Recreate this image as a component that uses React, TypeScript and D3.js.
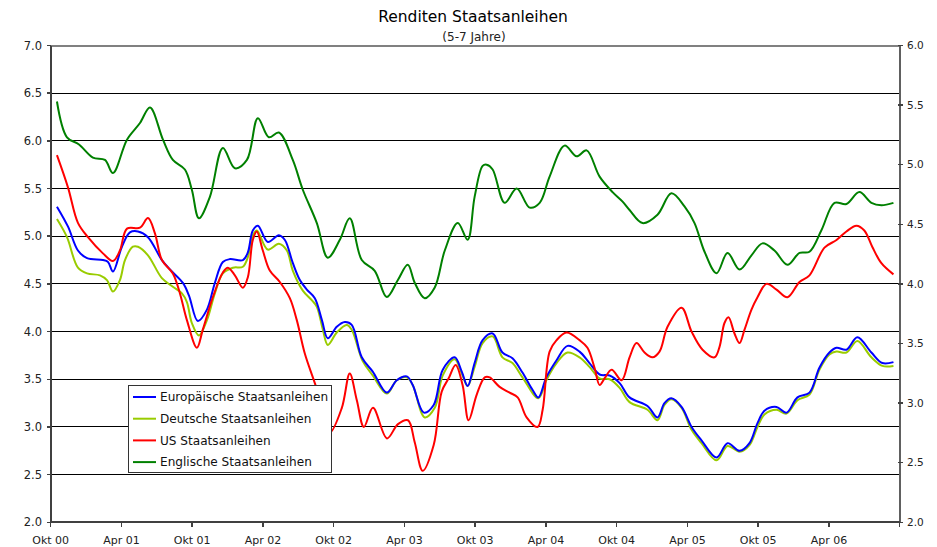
import React from "react";
import * as d3 from "d3";

const W = 937;
const H = 547;

// x-axis: months since Oct 2000
const tickLabels = ["Okt 00", "Apr 01", "Okt 01", "Apr 02", "Okt 02", "Apr 03", "Okt 03", "Apr 04", "Okt 04", "Apr 05", "Okt 05", "Apr 06"];
const tickMonths = [0, 6, 12, 18, 24, 30, 36, 42, 48, 54, 60, 66, 72];
const leftTicks = [2.0, 2.5, 3.0, 3.5, 4.0, 4.5, 5.0, 5.5, 6.0, 6.5, 7.0];
const rightTicks = [2.0, 2.5, 3.0, 3.5, 4.0, 4.5, 5.0, 5.5, 6.0];

const seriesNames = ["Europäische Staatsanleihen", "Deutsche Staatsanleihen", "US Staatsanleihen", "Englische Staatsanleihen"];
const seriesColors = ["#0000FF", "#99CC00", "#FF0000", "#008000"];

// [month since Oct 2000, yield %]
const euYields: [number, number][] = [
  [0.53, 5.31], [1.47, 5.10], [2.31, 4.85], [3.08, 4.77], [4.43, 4.75], [4.86, 4.73], [5.28, 4.63], [6.04, 4.89],
  [6.72, 5.04], [7.4, 5.05], [8.25, 4.99], [9.43, 4.75], [10.28, 4.63], [11.21, 4.51], [11.72, 4.38], [12.48, 4.11],
  [13.25, 4.23], [13.92, 4.51], [14.6, 4.73], [15.19, 4.76], [16.3, 4.75], [16.72, 4.83], [17.14, 5.06], [17.57, 5.11],
  [18.41, 4.94], [19.35, 5.01], [19.86, 4.96], [20.53, 4.72], [21.13, 4.54], [21.72, 4.44], [22.4, 4.35], [23.0, 4.12],
  [23.5, 3.93], [24.26, 4.05], [24.94, 4.10], [25.53, 4.07], [26.38, 3.73], [27.31, 3.58], [28.5, 3.36], [29.35, 3.49],
  [30.2, 3.53], [30.7, 3.44], [31.64, 3.15], [32.48, 3.23], [33.25, 3.60], [34.26, 3.73], [34.86, 3.58], [35.36, 3.43],
  [35.95, 3.67], [36.63, 3.91], [37.48, 3.98], [38.31, 3.78], [39.16, 3.72], [40.01, 3.57], [40.86, 3.39], [41.36, 3.31],
  [42.03, 3.52], [42.9, 3.70], [43.83, 3.85], [44.85, 3.79], [45.69, 3.67], [46.55, 3.55], [47.4, 3.54], [48.25, 3.46],
  [49.09, 3.31], [50.61, 3.22], [51.46, 3.10], [52.05, 3.25], [52.64, 3.30], [53.5, 3.21], [54.35, 3.00], [55.19, 2.86],
  [56.47, 2.68], [57.4, 2.83], [58.42, 2.75], [59.26, 2.83], [59.94, 3.04], [60.53, 3.17], [61.55, 3.21], [62.4, 3.15],
  [63.33, 3.31], [64.35, 3.36], [65.19, 3.62], [66.04, 3.78], [66.64, 3.83], [67.48, 3.81], [68.41, 3.94], [69.6, 3.78],
  [70.53, 3.67], [71.47, 3.68],
];

const deYields: [number, number][] = [
  [0.53, 5.18], [1.38, 4.99], [2.31, 4.67], [3.08, 4.61], [4.18, 4.59], [4.77, 4.54], [5.28, 4.42], [5.87, 4.54],
  [6.3, 4.75], [6.97, 4.89], [7.4, 4.89], [8.25, 4.80], [9.43, 4.56], [10.36, 4.47], [11.13, 4.40], [11.55, 4.31],
  [11.97, 4.09], [12.57, 3.96], [13.25, 4.12], [13.92, 4.40], [14.6, 4.61], [15.45, 4.67], [16.3, 4.68], [16.72, 4.78],
  [17.14, 5.01], [17.48, 5.06], [18.41, 4.86], [19.35, 4.92], [20.03, 4.85], [20.53, 4.64], [21.38, 4.43], [22.14, 4.33],
  [22.57, 4.26], [23.08, 4.02], [23.5, 3.86], [24.26, 3.99], [25.1, 4.07], [25.53, 4.02], [26.46, 3.69], [27.31, 3.54],
  [28.5, 3.35], [29.35, 3.49], [30.2, 3.52], [30.7, 3.44], [31.72, 3.10], [32.57, 3.20], [33.25, 3.54], [34.26, 3.71],
  [34.86, 3.56], [35.36, 3.43], [35.95, 3.63], [36.63, 3.88], [37.48, 3.95], [38.31, 3.73], [39.16, 3.67], [40.01, 3.52],
  [41.36, 3.30], [42.03, 3.49], [42.9, 3.67], [43.83, 3.78], [44.85, 3.73], [45.69, 3.63], [46.55, 3.51], [47.4, 3.50],
  [48.25, 3.41], [49.09, 3.26], [50.61, 3.18], [51.46, 3.07], [52.05, 3.23], [52.64, 3.29], [53.5, 3.20], [54.35, 2.97],
  [55.19, 2.83], [56.47, 2.65], [57.4, 2.80], [58.42, 2.74], [59.26, 2.81], [59.94, 3.00], [60.53, 3.13], [61.55, 3.18],
  [62.4, 3.14], [63.33, 3.28], [64.35, 3.34], [65.19, 3.60], [66.04, 3.76], [66.64, 3.79], [67.48, 3.78], [68.41, 3.90],
  [69.6, 3.73], [70.53, 3.64], [71.47, 3.64],
];

const usYields: [number, number][] = [
  [0.53, 5.85], [1.47, 5.51], [2.31, 5.14], [3.16, 4.99], [4.43, 4.82], [5.28, 4.74], [5.87, 4.85], [6.47, 5.08],
  [7.57, 5.09], [8.25, 5.19], [8.84, 5.03], [9.43, 4.75], [10.36, 4.61], [10.96, 4.40], [11.55, 4.12], [12.4, 3.83],
  [12.9, 4.02], [13.75, 4.36], [14.6, 4.62], [15.03, 4.67], [15.62, 4.59], [16.3, 4.46], [16.72, 4.57], [17.14, 4.96],
  [17.48, 5.05], [17.99, 4.85], [18.58, 4.64], [19.43, 4.52], [20.28, 4.35], [20.87, 4.12], [21.55, 3.77], [22.4, 3.46],
  [23.0, 3.23], [23.67, 2.94], [24.69, 3.20], [25.36, 3.56], [25.96, 3.28], [26.56, 3.00], [27.33, 3.20], [28.52, 2.88],
  [29.45, 3.03], [30.3, 3.07], [30.87, 2.84], [31.55, 2.54], [32.48, 2.81], [33.16, 3.37], [33.75, 3.51], [34.34, 3.65],
  [34.93, 3.44], [35.44, 3.07], [36.13, 3.34], [36.81, 3.52], [37.23, 3.52], [38.07, 3.42], [38.92, 3.36], [39.6, 3.31],
  [40.36, 3.10], [41.29, 3.00], [41.72, 3.18], [42.31, 3.79], [42.9, 3.91], [43.75, 3.99], [44.85, 3.91], [45.52, 3.83],
  [46.12, 3.62], [46.55, 3.44], [46.97, 3.51], [47.57, 3.60], [48.42, 3.49], [49.09, 3.73], [49.68, 3.88], [50.36, 3.78],
  [51.03, 3.73], [51.63, 3.79], [52.31, 4.05], [53.5, 4.25], [54.35, 4.00], [55.28, 3.81], [56.3, 3.73], [56.72, 3.84],
  [57.14, 4.09], [57.48, 4.15], [57.99, 3.98], [58.42, 3.88], [58.84, 4.02], [59.43, 4.23], [59.94, 4.36], [60.7, 4.50],
  [61.55, 4.44], [62.48, 4.36], [63.5, 4.52], [64.35, 4.59], [65.62, 4.88], [66.64, 4.96], [67.48, 5.05], [68.33, 5.11],
  [69.0, 5.06], [69.67, 4.89], [70.43, 4.72], [71.47, 4.60],
];

// UK series is plotted against the right-hand axis
const ukYields: [number, number][] = [
  [0.53, 5.53], [1.38, 5.23], [2.40, 5.17], [3.58, 5.06], [4.60, 5.04], [5.28, 4.93], [6.47, 5.21], [7.57, 5.35],
  [8.42, 5.48], [9.52, 5.21], [10.36, 5.04], [11.38, 4.96], [11.97, 4.79], [12.57, 4.55], [13.5, 4.73], [14.6, 5.14],
  [15.62, 4.97], [16.64, 5.04], [17.57, 5.39], [18.5, 5.23], [19.35, 5.27], [20.53, 5.04], [21.38, 4.79], [22.57, 4.51],
  [23.5, 4.22], [24.52, 4.37], [25.36, 4.55], [26.38, 4.20], [27.48, 4.11], [28.5, 3.89], [29.43, 4.03], [30.28, 4.16],
  [30.87, 4.01], [31.72, 3.88], [32.57, 3.97], [33.42, 4.28], [34.52, 4.51], [35.36, 4.37], [35.95, 4.73], [36.63, 4.99],
  [36.97, 5.00], [37.48, 4.96], [38.5, 4.68], [39.52, 4.80], [40.62, 4.64], [41.47, 4.68], [42.31, 4.90], [43.58, 5.16],
  [44.60, 5.07], [45.45, 5.12], [46.55, 4.90], [47.65, 4.77], [48.5, 4.69], [49.09, 4.62], [50.19, 4.51], [51.46, 4.58],
  [52.64, 4.76], [53.75, 4.65], [54.6, 4.51], [55.45, 4.27], [56.47, 4.09], [57.4, 4.26], [58.42, 4.12], [59.43, 4.24],
  [60.36, 4.34], [61.38, 4.28], [62.48, 4.16], [63.5, 4.26], [64.35, 4.27], [65.36, 4.45], [66.47, 4.68], [67.48, 4.67],
  [68.58, 4.77], [69.6, 4.68], [70.45, 4.66], [71.47, 4.68],
];

const FONT = "'DejaVu Sans', Verdana, sans-serif";

export default function App() {
  const plotL = 50.7, plotR = 899.7, plotT = 45.5, plotB = 522.3;
  const x = d3.scaleLinear().domain([0, 72]).range([plotL, plotR]);
  const yL = d3.scaleLinear().domain([2, 7]).range([plotB, plotT]);
  const yR = d3.scaleLinear().domain([2, 6]).range([plotB, plotT]);

  const lineL = d3.line<[number, number]>().x(d => x(d[0])).y(d => yL(d[1])).curve(d3.curveCatmullRom.alpha(0.5));
  const lineR = d3.line<[number, number]>().x(d => x(d[0])).y(d => yR(d[1])).curve(d3.curveCatmullRom.alpha(0.5));

  const paths = [
    { d: lineL(deYields), c: seriesColors[1] },
    { d: lineL(euYields), c: seriesColors[0] },
    { d: lineL(usYields), c: seriesColors[2] },
    { d: lineR(ukYields), c: seriesColors[3] },
  ];

  const legendX = 128, legendY = 385, legendW = 203, legendH = 87;

  return (
    <svg width={W} height={H} style={{ position: "absolute", left: 0, top: 0, background: "#fff" }} fontFamily={FONT}>
      <rect x={0} y={0} width={W} height={H} fill="#fff" />
      <text x={473} y={22} textAnchor="middle" fontSize={15.5} fill="#000">Renditen Staatsanleihen</text>
      <text x={474} y={41} textAnchor="middle" fontSize={12} fill="#222">(5-7 Jahre)</text>

      {/* gridlines */}
      {leftTicks.filter(t => t > 2 && t < 7).map(t => (
        <line key={"g" + t} x1={plotL} x2={plotR} y1={yL(t)} y2={yL(t)} stroke="#000" strokeWidth={1} shapeRendering="crispEdges" />
      ))}
      <line x1={plotL} x2={plotR} y1={plotT} y2={plotT} stroke="#808080" strokeWidth={2} shapeRendering="crispEdges" />

      {/* series */}
      <g>
        {paths.map((p, i) => (
          <path key={i} d={p.d || ""} fill="none" stroke={p.c} strokeWidth={2} strokeLinejoin="round" />
        ))}
      </g>

      {/* left axis */}
      <line x1={plotL} x2={plotL} y1={plotT} y2={plotB} stroke="#404040" strokeWidth={2} shapeRendering="crispEdges" />
      {leftTicks.map(t => (
        <g key={"l" + t}>
          <line x1={plotL - 4} x2={plotL} y1={yL(t)} y2={yL(t)} stroke="#404040" strokeWidth={1.5} shapeRendering="crispEdges" />
          <text x={42} y={yL(t)} dy="0.35em" textAnchor="end" fontSize={11.5} fill="#222">{t.toFixed(1)}</text>
        </g>
      ))}

      {/* right axis */}
      <line x1={plotR} x2={plotR} y1={plotT} y2={plotB} stroke="#606060" strokeWidth={2} shapeRendering="crispEdges" />
      {rightTicks.map(t => (
        <g key={"r" + t}>
          <line x1={plotR - 2} x2={plotR + 3} y1={yR(t)} y2={yR(t)} stroke="#404040" strokeWidth={1.5} shapeRendering="crispEdges" />
          <text x={907} y={yR(t)} dy="0.35em" textAnchor="start" fontSize={10.5} fill="#222">{t.toFixed(1)}</text>
        </g>
      ))}

      {/* bottom axis */}
      <line x1={plotL} x2={plotR} y1={plotB} y2={plotB} stroke="#404040" strokeWidth={2} shapeRendering="crispEdges" />
      {tickMonths.map(m => (
        <line key={"b" + m} x1={x(m)} x2={x(m)} y1={plotB} y2={plotB + 5} stroke="#404040" strokeWidth={1.5} shapeRendering="crispEdges" />
      ))}
      {tickLabels.map((lab, i) => (
        <text key={"bl" + i} x={x(tickMonths[i])} y={540} dy="0.35em" textAnchor="middle" fontSize={11} fill="#222">{lab}</text>
      ))}

      {/* legend */}
      <rect x={legendX} y={legendY} width={legendW} height={legendH} fill="#fff" stroke="#333" strokeWidth={1} shapeRendering="crispEdges" />
      {seriesNames.map((n, i) => {
        const yy = legendY + 12 + i * 21.7;
        return (
          <g key={"lg" + i}>
            <line x1={legendX + 5} x2={legendX + 28} y1={yy} y2={yy} stroke={seriesColors[i]} strokeWidth={2} />
            <text x={legendX + 32} y={yy} dy="0.35em" fontSize={12.1} fill="#111">{n}</text>
          </g>
        );
      })}
    </svg>
  );
}
